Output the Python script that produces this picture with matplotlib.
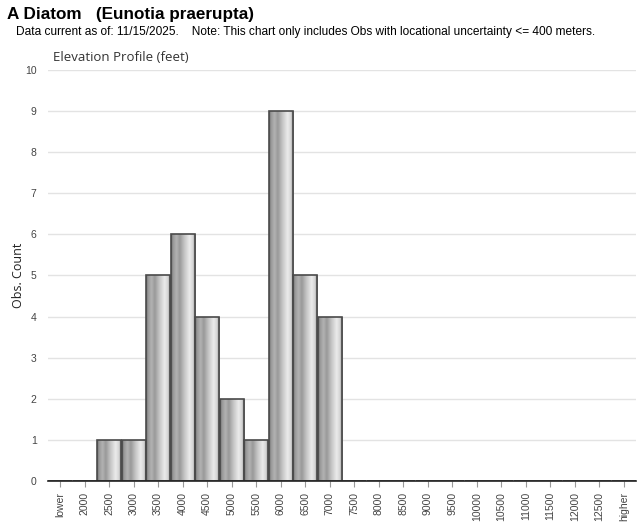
import matplotlib
matplotlib.use("Agg")
import matplotlib.pyplot as plt
import numpy as np

categories = ["lower", "2000", "2500", "3000", "3500", "4000", "4500", "5000",
              "5500", "6000", "6500", "7000", "7500", "8000", "8500", "9000",
              "9500", "10000", "10500", "11000", "11500", "12000", "12500", "higher"]
counts = [0, 0, 1, 1, 5, 6, 4, 2, 1, 9, 5, 4, 0, 0, 0, 0, 0, 0, 0, 0, 0, 0, 0, 0]
yticks = list(range(0, 11))

fig = plt.figure(figsize=(6.4, 5.23), dpi=100)
ax = fig.add_axes([0.0746, 0.0803, 0.9938 - 0.0746, 0.8662 - 0.0803])

x = np.arange(len(categories))
bars = ax.bar(x, counts, width=0.98, facecolor="none", edgecolor="#4a4a4a", linewidth=1.2, zorder=3)

# horizontal gradient for each bar
grad_pts = np.array([0.0, 0.08, 0.22, 0.35, 0.55, 0.75, 0.88, 1.0])
grad_val = np.array([0.42, 0.60, 0.70, 0.60, 0.78, 0.92, 0.84, 0.52])
xs = np.linspace(0, 1, 64)
g = np.interp(xs, grad_pts, grad_val)
img = np.dstack([g, g, g]).reshape(1, -1, 3)
for rect, c in zip(bars, counts):
    if c <= 0:
        continue
    x0 = rect.get_x(); w = rect.get_width()
    im = ax.imshow(img, extent=[x0, x0 + w, 0, c], aspect="auto", zorder=2,
                   interpolation="bilinear")
    im.set_clip_path(rect)

ax.set_xlim(-0.5, len(categories) - 0.5)
ax.set_ylim(0, 10)
ax.set_yticks(yticks)
ax.set_xticks(x)
ax.set_xticklabels(categories, rotation=90, fontsize=7.5, color="#444444", family="Liberation Sans")
for lab in ax.get_yticklabels():
    lab.set_family("Liberation Sans")
ax.tick_params(axis="y", length=0, labelsize=7.5, labelcolor="#444444", pad=8)
ax.tick_params(axis="x", length=4, color="#999999", pad=4)
ax.grid(axis="y", color="#e3e3e3", linewidth=1, zorder=0)
ax.set_axisbelow(True)
for s in ["top", "right", "left"]:
    ax.spines[s].set_visible(False)
ax.spines["bottom"].set_color("#222222")
ax.spines["bottom"].set_linewidth(1.2)
ax.spines["bottom"].set_zorder(4)

fig.text(18 / 640, 1 - 275 / 523, "Obs. Count", fontsize=9, color="#222222",
         rotation=90, va="center", ha="center", family="Open Sans")

fig.text(0.011, 0.972, "A Diatom   (Eunotia praerupta)", fontsize=12.3, fontweight="bold",
         family="Liberation Sans", va="center", ha="left")
fig.text(0.025, 0.938, "Data current as of: 11/15/2025.    Note: This chart only includes Obs with locational uncertainty <= 400 meters.",
         fontsize=8.6, family="Liberation Sans", va="center", ha="left")
fig.text(0.083, 0.891, "Elevation Profile (feet)", fontsize=9.5, color="#333333",
         family="Open Sans", va="center", ha="left")

fig.savefig("out.png", dpi=100)
